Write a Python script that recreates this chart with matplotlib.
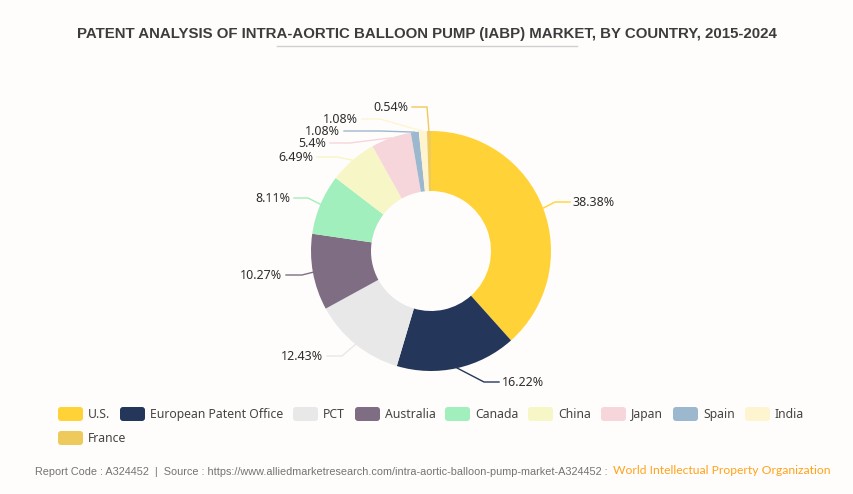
import matplotlib
matplotlib.use("Agg")
import matplotlib.pyplot as plt
from matplotlib.patches import FancyBboxPatch
import numpy as np

W, H = 854, 494
BG = "#FFFDFC"

names = ["U.S.", "European Patent Office", "PCT", "Australia", "Canada", "China", "Japan", "Spain", "India", "France"]
values = np.array([38.38, 16.22, 12.43, 10.27, 8.11, 6.49, 5.4, 1.08, 1.08, 0.54])
labels = ["38.38%", "16.22%", "12.43%", "10.27%", "8.11%", "6.49%", "5.4%", "1.08%", "1.08%", "0.54%"]
colors = ["#FFD337", "#24375A", "#E8E8E8", "#7F6D83", "#A0EFBC", "#F7F6C6", "#F6D6DA", "#9CB8CF", "#FEF5D0", "#EEC95C"]

# leader elbow and label end, in pixels from the top left of the image
elbow = [(555, 202), (484, 382), (342, 356), (302, 275), (308, 198), (337, 157), (350, 143), (380, 131), (380, 119), (427, 107)]
ends = [(570, 202), (499, 382), (327, 356), (286, 275), (294, 198), (317, 157), (330, 143), (344, 131), (362, 119), (412, 107)]

# legend rows: swatch left edge and row centre
legend_x = [58, 120, 293, 355, 445, 528, 601, 673, 745, 58]
legend_y = [414, 414, 414, 414, 414, 414, 414, 414, 414, 438]

plt.rcParams["font.family"] = ["Noto Sans", "DejaVu Sans"]

fig = plt.figure(figsize=(W / 100, H / 100), dpi=100, facecolor=BG)
ax = fig.add_axes([0, 0, 1, 1])

cx, cy, r_out, r_in = 431, H - 251, 120, 60
ax.pie(values, colors=colors, center=(cx, cy), radius=r_out, startangle=90, counterclock=False,
       wedgeprops=dict(width=r_out - r_in, edgecolor="none"), frame=True)
ax.set_xlim(0, W)
ax.set_ylim(0, H)
ax.set_aspect("equal")
ax.axis("off")

# Leader lines and value labels
mids = 90 - (np.cumsum(values) - values / 2) * 3.6
for i, mid in enumerate(mids):
    a = np.deg2rad(mid)
    xs = [cx + r_out * np.cos(a), elbow[i][0], ends[i][0]]
    ys = [cy + r_out * np.sin(a), H - elbow[i][1], H - ends[i][1]]
    ax.plot(xs, ys, color=colors[i], lw=1, solid_joinstyle="miter")
    right = ends[i][0] > cx
    ax.text(ends[i][0] + (3 if right else -4), H - ends[i][1] - 0.5, labels[i], fontsize=9.0, color="#2E2E2E",
            ha="left" if right else "right", va="center")

# Legend
for x, y, name, c in zip(legend_x, legend_y, names, colors):
    ax.add_patch(FancyBboxPatch((x + 2, H - y - 5), 21, 10, boxstyle="round,pad=2,rounding_size=3",
                                facecolor=c, edgecolor="none"))
    ax.text(x + 30, H - y - 0.5, name, fontsize=8.8, color="#444444", ha="left", va="center")

# Title and footer
ax.text(427, H - 33.5, "PATENT ANALYSIS OF INTRA-AORTIC BALLOON PUMP (IABP) MARKET, BY COUNTRY, 2015-2024",
        fontsize=10.77, fontweight="bold", family="Liberation Sans", color="#3C3C3C", ha="center", va="center")
ax.plot([277, 577], [H - 46, H - 46], color="#CFCFCF", lw=1)
ax.text(35, H - 472, "Report Code : A324452  |  Source : https://www.alliedmarketresearch.com/intra-aortic-balloon-pump-market-A324452 :",
        fontsize=7.8, family="Liberation Sans", color="#737373", ha="left", va="center")
ax.text(613, H - 470, "World Intellectual Property Organization", fontsize=8.7, family="Lato",
        color="#FFA31A", ha="left", va="center")

fig.savefig("out.png", dpi=100, facecolor=BG)
